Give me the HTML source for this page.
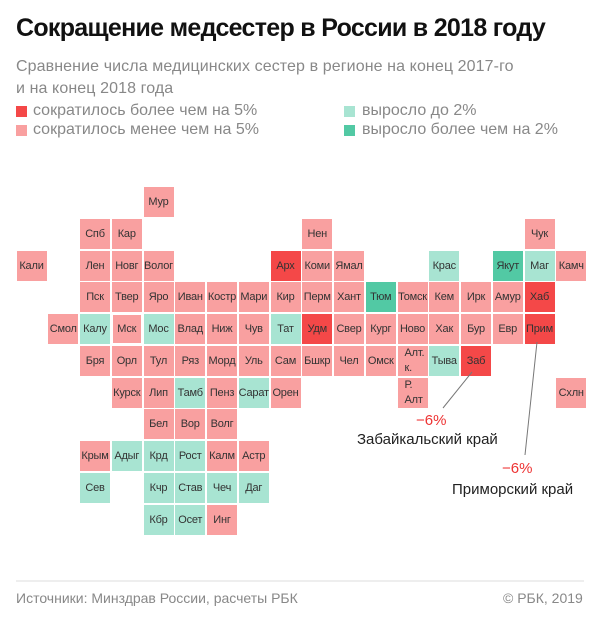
<!DOCTYPE html>
<html><head><meta charset="utf-8"><style>
body{margin:0;width:600px;height:628px;background:#fff;font-family:"Liberation Sans",sans-serif;position:relative;overflow:hidden}
.a{position:absolute}
.c{position:absolute;width:30px;height:30px;font-size:11px;color:#333;display:flex;align-items:center;justify-content:center;white-space:nowrap;letter-spacing:-0.2px}
.p{background:#f9a0a0}.r{background:#f44848}.l{background:#a8e4d2}.g{background:#52c9a4}
.t{font-size:16px;color:#888}
</style></head><body>
<div class="a" style="left:16px;top:14px;font-size:25px;font-weight:bold;color:#111;letter-spacing:-0.7px">Сокращение медсестер в России в 2018 году</div>
<div class="a t" style="left:16px;top:56px;line-height:22px;letter-spacing:0.1px">Сравнение числа медицинских сестер в регионе на конец 2017-го<br>и на конец 2018 года</div>
<div class="a r" style="left:16px;top:106px;width:11px;height:11px"></div>
<div class="a t" style="left:33px;top:102px">сократилось более чем на 5%</div>
<div class="a p" style="left:16px;top:125px;width:11px;height:11px"></div>
<div class="a t" style="left:33px;top:121px">сократилось менее чем на 5%</div>
<div class="a l" style="left:344px;top:106px;width:11px;height:11px"></div>
<div class="a t" style="left:362px;top:102px">выросло до 2%</div>
<div class="a g" style="left:344px;top:125px;width:11px;height:11px"></div>
<div class="a t" style="left:362px;top:121px">выросло более чем на 2%</div>
<div id="m"></div>
<svg class="a" style="left:0;top:0" width="600" height="628"><line x1="472" y1="372" x2="443" y2="408" stroke="#777" stroke-width="1"/><line x1="537" y1="342" x2="525" y2="455" stroke="#777" stroke-width="1"/><line x1="16" y1="581" x2="584" y2="581" stroke="#ddd"/></svg>
<div class="a" style="left:416px;top:412px;font-size:15px;color:#e33">−6%</div>
<div class="a" style="left:357px;top:431px;font-size:15px;color:#222">Забайкальский край</div>
<div class="a" style="left:502px;top:460px;font-size:15px;color:#e33">−6%</div>
<div class="a" style="left:452px;top:481px;font-size:15px;color:#222">Приморский край</div>
<div class="a" style="left:16px;top:590px;font-size:14px;color:#888">Источники: Минздрав России, расчеты РБК</div>
<div class="a" style="left:503px;top:590px;font-size:14px;color:#888">© РБК, 2019</div>
<script>
var d=[
[0,4,'p','Мур'],
[1,2,'p','Спб'],[1,3,'p','Кар'],[1,9,'p','Нен'],[1,16,'p','Чук'],
[2,0,'p','Кали'],[2,2,'p','Лен'],[2,3,'p','Новг'],[2,4,'p','Волог'],[2,8,'r','Арх'],[2,9,'p','Коми'],[2,10,'p','Ямал'],[2,13,'l','Крас'],[2,15,'g','Якут'],[2,16,'l','Маг'],[2,17,'p','Камч'],
[3,2,'p','Пск'],[3,3,'p','Твер'],[3,4,'p','Яро'],[3,5,'p','Иван'],[3,6,'p','Костр'],[3,7,'p','Мари'],[3,8,'p','Кир'],[3,9,'p','Перм'],[3,10,'p','Хант'],[3,11,'g','Тюм'],[3,12,'p','Томск'],[3,13,'p','Кем'],[3,14,'p','Ирк'],[3,15,'p','Амур'],[3,16,'r','Хаб'],
[4,1,'p','Смол'],[4,2,'l','Калу'],[4,3,'p','Мск'],[4,4,'l','Мос'],[4,5,'p','Влад'],[4,6,'p','Ниж'],[4,7,'p','Чув'],[4,8,'l','Тат'],[4,9,'r','Удм'],[4,10,'p','Свер'],[4,11,'p','Кург'],[4,12,'p','Ново'],[4,13,'p','Хак'],[4,14,'p','Бур'],[4,15,'p','Евр'],[4,16,'r','Прим'],
[5,2,'p','Бря'],[5,3,'p','Орл'],[5,4,'p','Тул'],[5,5,'p','Ряз'],[5,6,'p','Морд'],[5,7,'p','Уль'],[5,8,'p','Сам'],[5,9,'p','Бшкр'],[5,10,'p','Чел'],[5,11,'p','Омск'],[5,12,'p','Алт.<br>к.'],[5,13,'l','Тыва'],[5,14,'r','Заб'],
[6,3,'p','Курск'],[6,4,'p','Лип'],[6,5,'l','Тамб'],[6,6,'p','Пенз'],[6,7,'l','Сарат'],[6,8,'p','Орен'],[6,12,'p','Р.<br>Алт'],[6,17,'p','Схлн'],
[7,4,'p','Бел'],[7,5,'p','Вор'],[7,6,'p','Волг'],
[8,2,'p','Крым'],[8,3,'l','Адыг'],[8,4,'l','Крд'],[8,5,'l','Рост'],[8,6,'p','Калм'],[8,7,'p','Астр'],
[9,2,'l','Сев'],[9,4,'l','Кчр'],[9,5,'l','Став'],[9,6,'l','Чеч'],[9,7,'l','Даг'],
[10,4,'l','Кбр'],[10,5,'l','Осет'],[10,6,'p','Инг']];
var h='';d.forEach(function(e){var x=16.5+e[1]*31.75,y=187+e[0]*31.75;var s=e[3].indexOf('<br>')>0?'justify-content:flex-start;padding-left:7px;width:23px;line-height:15px;':'';if(e[3]=='Мск')s+='box-shadow:inset 0 0 0 1px #fff;';h+='<div class="c '+e[2]+'" style="left:'+x+'px;top:'+y+'px;'+s+'">'+e[3]+'</div>';});
document.getElementById('m').innerHTML=h;
</script>
</body></html>
